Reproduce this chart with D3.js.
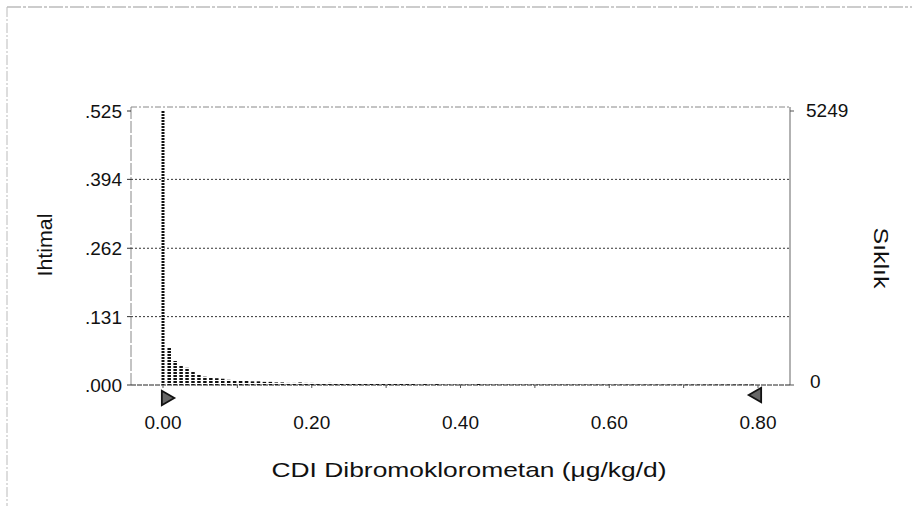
<!DOCTYPE html>
<html>
<head>
<meta charset="utf-8">
<script src="https://cdn.jsdelivr.net/npm/d3@7"></script>
<style>
  body { margin: 0; background: #fff; }
  svg { font-family: "Liberation Sans", Arial, sans-serif; }
</style>
</head>
<body>
<svg width="912" height="506"></svg>
<script>
// histogram of the CDI forecast: bin width and probability per bin
var binWidth = 0.008;
var probs = [
  0.525, 0.071, 0.046, 0.037, 0.033, 0.025, 0.021, 0.016, 0.015, 0.013,
  0.012, 0.010, 0.009, 0.009, 0.008, 0.007, 0.007, 0.006, 0.006, 0.005,
  0.005, 0.004, 0.004, 0.005, 0.004, 0.004, 0.003, 0.003, 0.004, 0.003,
  0.003, 0.003, 0.002, 0.003, 0.002, 0.002, 0.002, 0.002, 0.002, 0.002,
  0.002, 0.002, 0.002, 0.001, 0.002, 0.001, 0.002, 0.001, 0.001, 0.001,
  0.001, 0.001, 0.001, 0.002, 0.001, 0.001, 0.001, 0.001, 0.001, 0.001,
  0.001, 0.001, 0.001, 0.001, 0.001, 0.001, 0.001, 0.001, 0.001, 0.001,
  0.001, 0.001, 0.001, 0.001, 0.001, 0.001, 0.001, 0.001, 0.001, 0.001,
  0.001, 0.001, 0.001, 0.001, 0.001, 0.001, 0.001, 0.001, 0.001, 0.001,
  0.001, 0.001, 0.001, 0.001, 0.001, 0.001, 0.001, 0.001, 0.001, 0.001
];
var probTicks = [0, 0.131, 0.262, 0.394, 0.525];
var probLabels = [".000", ".131", ".262", ".394", ".525"];
var freqMax = 5249;
var freqTicks = [0, 5249];
var xTicks = [0, 0.2, 0.4, 0.6, 0.8];
var markers = [0, 0.8];   // certainty range triangles

var svg = d3.select("svg");
var pLeft = 131, pRight = 790, pTop = 107, pBottom = 385;

var x = d3.scaleLinear().domain([0, 0.8]).range([163, 758]);
var y = d3.scaleLinear().domain([0, 0.525]).range([pBottom, 111]);
var yF = d3.scaleLinear().domain([0, freqMax]).range([pBottom, 111]);

// outer page border
svg.append("line").attr("x1", 7).attr("x2", 912).attr("y1", 7).attr("y2", 7)
   .attr("stroke", "#999").attr("stroke-dasharray", "14,2,3,2");
svg.append("line").attr("x1", 7).attr("x2", 7).attr("y1", 7).attr("y2", 506)
   .attr("stroke", "#bbb").attr("stroke-dasharray", "10,2,2,2");

// hatch pattern for the bars
var defs = svg.append("defs");
var pat = defs.append("pattern").attr("id", "hatch")
   .attr("patternUnits", "userSpaceOnUse").attr("width", 4).attr("height", 3);
pat.append("rect").attr("width", 4).attr("height", 3).attr("fill", "#fff");
pat.append("rect").attr("width", 4).attr("height", 2).attr("fill", "#111");

// plot frame
svg.append("line").attr("x1", pLeft).attr("x2", pRight).attr("y1", pTop).attr("y2", pTop)
   .attr("stroke", "#888").attr("stroke-dasharray", "6,2,2,2");
svg.append("line").attr("x1", pLeft).attr("x2", pLeft).attr("y1", pTop).attr("y2", pBottom)
   .attr("stroke", "#888").attr("stroke-dasharray", "12,2");
svg.append("line").attr("x1", pRight).attr("x2", pRight).attr("y1", pTop).attr("y2", pBottom)
   .attr("stroke", "#999").attr("stroke-width", 1.5);

// grid lines
svg.selectAll(".grid").data(probTicks.filter(function(d) { return d > 0 && d < 0.525; }))
  .enter().append("line")
  .attr("x1", pLeft).attr("x2", pRight)
  .attr("y1", function(d) { return y(d); }).attr("y2", function(d) { return y(d); })
  .attr("stroke", "#333").attr("stroke-dasharray", "2,2");

// bars
svg.selectAll(".bar").data(probs).enter().append("rect")
  .attr("x", function(d, i) { return x(i * binWidth) - 1.5; })
  .attr("width", function(d, i) { return i == 0 ? 3 : 3.5; })
  .attr("y", function(d) { return y(d); })
  .attr("height", function(d) { return pBottom - y(d); })
  .attr("fill", "url(#hatch)");

// baseline
svg.append("line").attr("x1", pLeft).attr("x2", pRight).attr("y1", pBottom).attr("y2", pBottom)
   .attr("stroke", "#222").attr("stroke-dasharray", "5,1");

// left axis ticks and labels
svg.selectAll(".ytick").data(probTicks).enter().append("line")
  .attr("x1", pLeft - 4).attr("x2", pLeft)
  .attr("y1", function(d) { return y(d); }).attr("y2", function(d) { return y(d); })
  .attr("stroke", "#333");
svg.selectAll(".ylab").data(probTicks).enter().append("text")
  .attr("x", 122).attr("y", function(d) { return y(d) + 2; })
  .attr("text-anchor", "end").attr("dominant-baseline", "middle")
  .attr("font-size", 19).attr("fill", "#111")
  .text(function(d, i) { return probLabels[i]; });

// right axis ticks and labels
svg.selectAll(".ftick").data(freqTicks).enter().append("line")
  .attr("x1", pRight).attr("x2", pRight + 4)
  .attr("y1", function(d) { return yF(d); }).attr("y2", function(d) { return yF(d); })
  .attr("stroke", "#555");
svg.selectAll(".flab").data(freqTicks).enter().append("text")
  .attr("x", function(d) { return d == 0 ? 810 : 806; })
  .attr("y", function(d) { return d == 0 ? yF(d) - 2 : yF(d) + 1; })
  .attr("dominant-baseline", "middle")
  .attr("font-size", 19).attr("fill", "#111")
  .text(function(d) { return d; });

// x axis ticks every 0.1 and labels
svg.selectAll(".xtick").data(d3.range(0, 9)).enter().append("line")
  .attr("x1", function(d) { return x(d / 10); }).attr("x2", function(d) { return x(d / 10); })
  .attr("y1", pBottom).attr("y2", pBottom + 3)
  .attr("stroke", "#555");
svg.selectAll(".xlab").data(xTicks).enter().append("text")
  .attr("x", function(d) { return x(d); }).attr("y", 424)
  .attr("text-anchor", "middle").attr("dominant-baseline", "middle")
  .attr("font-size", 19).attr("fill", "#111")
  .text(function(d) { return d3.format(".2f")(d); });

// certainty range markers
svg.selectAll(".mark").data(markers).enter().append("path")
  .attr("d", d3.symbol().type(d3.symbolTriangle).size(90))
  .attr("transform", function(d, i) {
    return "translate(" + (x(d) + (i == 0 ? 3 : -1)) + "," + (i == 0 ? pBottom + 13 : pBottom + 10) + ") rotate(" + (i == 0 ? 90 : -90) + ")";
  })
  .attr("fill", "#666").attr("stroke", "#111").attr("stroke-width", 1.8);

// axis titles
svg.append("text").attr("x", 469).attr("y", 471)
  .attr("text-anchor", "middle").attr("dominant-baseline", "middle")
  .attr("font-size", 21).attr("fill", "#111")
  .attr("textLength", 395).attr("lengthAdjust", "spacingAndGlyphs")
  .text("CDI Dibromoklorometan (\u03bcg/kg/d)");
svg.append("text").attr("transform", "translate(47,245) rotate(-90)")
  .attr("text-anchor", "middle").attr("dominant-baseline", "middle")
  .attr("font-size", 20).attr("fill", "#111")
  .attr("textLength", 63).attr("lengthAdjust", "spacingAndGlyphs")
  .text("Ihtimal");
svg.append("text").attr("transform", "translate(879,258) rotate(90)")
  .attr("text-anchor", "middle").attr("dominant-baseline", "middle")
  .attr("font-size", 20).attr("fill", "#111")
  .attr("textLength", 61).attr("lengthAdjust", "spacingAndGlyphs")
  .text("Sıklık");
</script>
</body>
</html>
